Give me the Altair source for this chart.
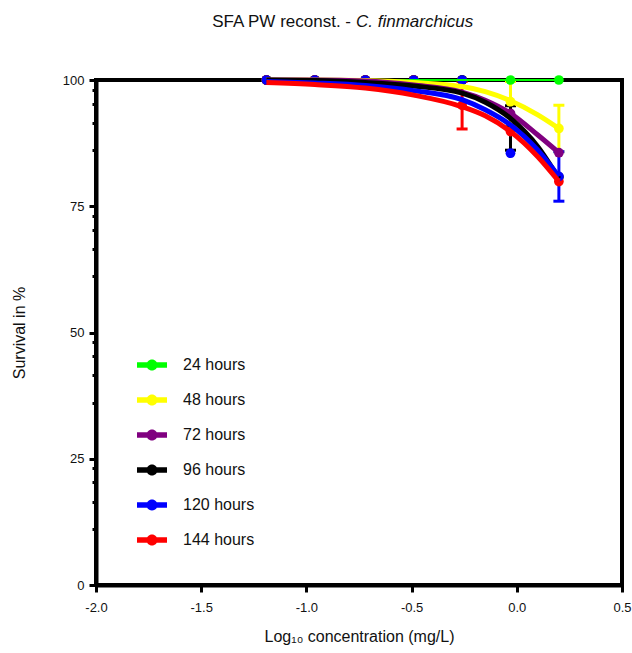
import altair as alt
import pandas as pd

# ---------------- data ----------------
series_names = ["24 hours", "48 hours", "72 hours", "96 hours", "120 hours", "144 hours"]
series_colors = ["#00ff00", "#ffff00", "#800080", "#000000", "#0000ff", "#ff0000"]

conc = [-1.19, -0.96, -0.72, -0.49, -0.26, -0.03, 0.20]

mean_24 = [100, 100, 100, 100, 100, 100, 100]
sd_24 = [0, 0, 0, 0, 0, 0, 0]
mean_48 = [100, 100, 100, 100, 100, 95.7, 90.4]
sd_48 = [0, 0, 0, 0, 0, 4.0, 4.6]
mean_72 = [100, 100, 100, 100, 100, 93.4, 85.6]
sd_72 = [0, 0, 0, 0, 0, 0, 0]
mean_96 = [100, 100, 100, 100, 100, 90.5, 80.8]
sd_96 = [0, 0, 0, 0, 0, 4.4, 0]
mean_120 = [100, 100, 100, 100, 100, 85.5, 80.9]
sd_120 = [0, 0, 0, 0, 0, 0, 4.9]
mean_144 = [100, 100, 100, 100, 95.0, 89.8, 79.9]
sd_144 = [0, 0, 0, 0, 4.7, 0, 0]

# fitted curves
fit_x = [-1.19, -0.96, -0.72, -0.49, -0.26, -0.15, -0.03, 0.10, 0.20]
fit_24 = [100, 100, 100, 100, 100, 100, 100, 100, 100]
fit_48 = [100, 100, 99.9, 99.5, 98.7, 97.7, 95.9, 93.1, 90.4]
fit_72 = [100, 100, 99.8, 99.0, 97.6, 96.0, 93.4, 89.1, 85.6]
fit_96 = [100, 99.9, 99.5, 98.8, 97.4, 95.6, 92.4, 86.8, 80.5]
fit_120 = [99.7, 99.4, 98.9, 97.9, 96.1, 94.1, 91.1, 86.1, 80.9]
fit_144 = [99.5, 99.1, 98.4, 97.0, 94.7, 92.9, 89.8, 84.8, 79.9]

x_ticks = [-2.0, -1.5, -1.0, -0.5, 0.0, 0.5]
y_ticks = [0, 25, 50, 75, 100]
y_minor = [98.1, 95.3, 91.5, 86.1, 73.1, 70.3, 66.5, 61.1,
           48.1, 45.3, 41.5, 36.1, 23.1, 20.3, 16.5, 11.1]

title_plain = "SFA PW reconst. -"
title_italic = "C. finmarchicus"
x_title = "Log\u2081\u2080 concentration (mg/L)"
y_title = "Survival in %"

# ---------------- tables ----------------
means = [mean_24, mean_48, mean_72, mean_96, mean_120, mean_144]
sds = [sd_24, sd_48, sd_72, sd_96, sd_120, sd_144]
fits = [fit_24, fit_48, fit_72, fit_96, fit_120, fit_144]

rows = []
for name, col, m, s in zip(series_names, series_colors, means, sds):
    for xv, mv, sv in zip(conc, m, s):
        rows.append(dict(series=name, hexcol=col, conc=xv, mean=mv, sd=sv,
                         lo=mv - sv, hi=mv + sv))
pts = pd.DataFrame(rows)
draw_order = ["24 hours", "48 hours", "72 hours", "96 hours", "144 hours", "120 hours"]
pts["zorder"] = pts["series"].map({n: i for i, n in enumerate(draw_order)})
pts = pts.sort_values("zorder", kind="stable").reset_index(drop=True)
bars = pts[pts["sd"] > 0].reset_index(drop=True)

FONT = "Liberation Sans"
TXT = "#111111"

xs = alt.Scale(domain=[-2.0, 0.5], nice=False, zero=False)
ys = alt.Scale(domain=[0, 100], nice=False)

LEG_PATH = ("M-1,-0.18L1,-0.18L1,0.18L-1,0.18Z "
            "M0.37,0A0.37,0.37,0,1,1,-0.37,0A0.37,0.37,0,1,1,0.37,0Z")

# error bars
err_rule = alt.Chart(bars).mark_rule(strokeWidth=3).encode(
    x=alt.X("conc:Q", scale=xs, axis=None),
    y=alt.Y("lo:Q", scale=ys, axis=None),
    y2="hi:Q",
    color=alt.Color("hexcol:N", scale=None),
)
err_lo = alt.Chart(bars).mark_tick(orient="horizontal", size=11, thickness=3, opacity=1).encode(
    x=alt.X("conc:Q", scale=xs, axis=None),
    y=alt.Y("lo:Q", scale=ys, axis=None),
    color=alt.Color("hexcol:N", scale=None),
)
err_hi = alt.Chart(bars).mark_tick(orient="horizontal", size=11, thickness=3, opacity=1).encode(
    x=alt.X("conc:Q", scale=xs, axis=None),
    y=alt.Y("hi:Q", scale=ys, axis=None),
    color=alt.Color("hexcol:N", scale=None),
)

# points with main y axis and legend
points = alt.Chart(pts).mark_circle(size=95, opacity=1).encode(
    x=alt.X("conc:Q", scale=xs, axis=None),
    y=alt.Y("mean:Q", scale=ys,
            axis=alt.Axis(orient="left", values=y_ticks, format="d", title=y_title,
                          tickSize=7, tickWidth=3, tickColor="black",
                          domainColor="black", domainWidth=4,
                          labelFont=FONT, labelFontSize=13, labelColor=TXT,
                          labelPadding=5, labelFlush=False, labelOverlap=False,
                          titleFont=FONT, titleFontSize=16, titleFontWeight="normal",
                          titleColor=TXT, titlePadding=35, grid=False)),
    color=alt.Color("series:N",
                    scale=alt.Scale(domain=series_names, range=series_colors),
                    legend=alt.Legend(title=None, orient="none", legendX=41, legendY=270,
                                      symbolType=LEG_PATH, symbolSize=900,
                                      symbolStrokeWidth=0, symbolOpacity=1,
                                      labelFont=FONT, labelFontSize=16, labelColor=TXT,
                                      labelOffset=16, rowPadding=12, padding=0)),
    order=alt.Order("zorder:Q"),
)

# invisible layer carrying the x axis and the minor y ticks
axis_layer = alt.Chart(pts).mark_circle(opacity=0).encode(
    x=alt.X("conc:Q", scale=xs,
            axis=alt.Axis(orient="bottom", values=x_ticks, title=x_title, format=".1f",
                          labelExpr="replace(datum.label, '\u2212', '-')",
                          tickSize=7, tickWidth=3, tickColor="black",
                          domainColor="black", domainWidth=4,
                          labelFont=FONT, labelFontSize=13, labelColor=TXT,
                          labelPadding=9, labelFlush=False, labelOverlap=False,
                          titleFont=FONT, titleFontSize=16, titleFontWeight="normal",
                          titleColor=TXT, titlePadding=14, grid=False)),
    y=alt.Y("mean:Q", scale=ys,
            axis=alt.Axis(orient="left", values=y_minor, labels=False, title="",
                          tickSize=4, tickWidth=3, tickColor="black",
                          domain=False, grid=False)),
)

# fitted curves, one layer each for draw order
curve_layers = []
for name, col, f in zip(series_names, series_colors, fits):
    dfc = pd.DataFrame({"x": fit_x, "y": f})
    w = 2 if name == "24 hours" else 5
    curve_layers.append(
        alt.Chart(dfc).mark_line(color=col, strokeWidth=w, interpolate="monotone").encode(
            x=alt.X("x:Q", scale=xs, axis=None),
            y=alt.Y("y:Q", scale=ys, axis=None),
        )
    )

# title (plain + italic parts)
t1 = alt.Chart(pd.DataFrame({"t": [title_plain]})).mark_text(
    align="right", baseline="middle", font=FONT, fontSize=17, color=TXT
).encode(text="t:N", x=alt.value(255), y=alt.value(-58))
t2 = alt.Chart(pd.DataFrame({"t": [title_italic]})).mark_text(
    align="left", baseline="middle", font=FONT, fontSize=17, fontStyle="italic", color=TXT
).encode(text="t:N", x=alt.value(260), y=alt.value(-58))

chart = alt.layer(
    err_rule, err_lo, err_hi, points, axis_layer, *curve_layers, t1, t2
).resolve_axis(x="independent", y="independent").properties(
    width=526, height=505,
    padding={"left": 96, "top": 80, "right": 10, "bottom": 68},
    autosize=alt.AutoSizeParams(type="none"),
).configure_view(stroke="black", strokeWidth=4)

chart.save("out.html", embed_options={"renderer": "svg", "actions": False})
